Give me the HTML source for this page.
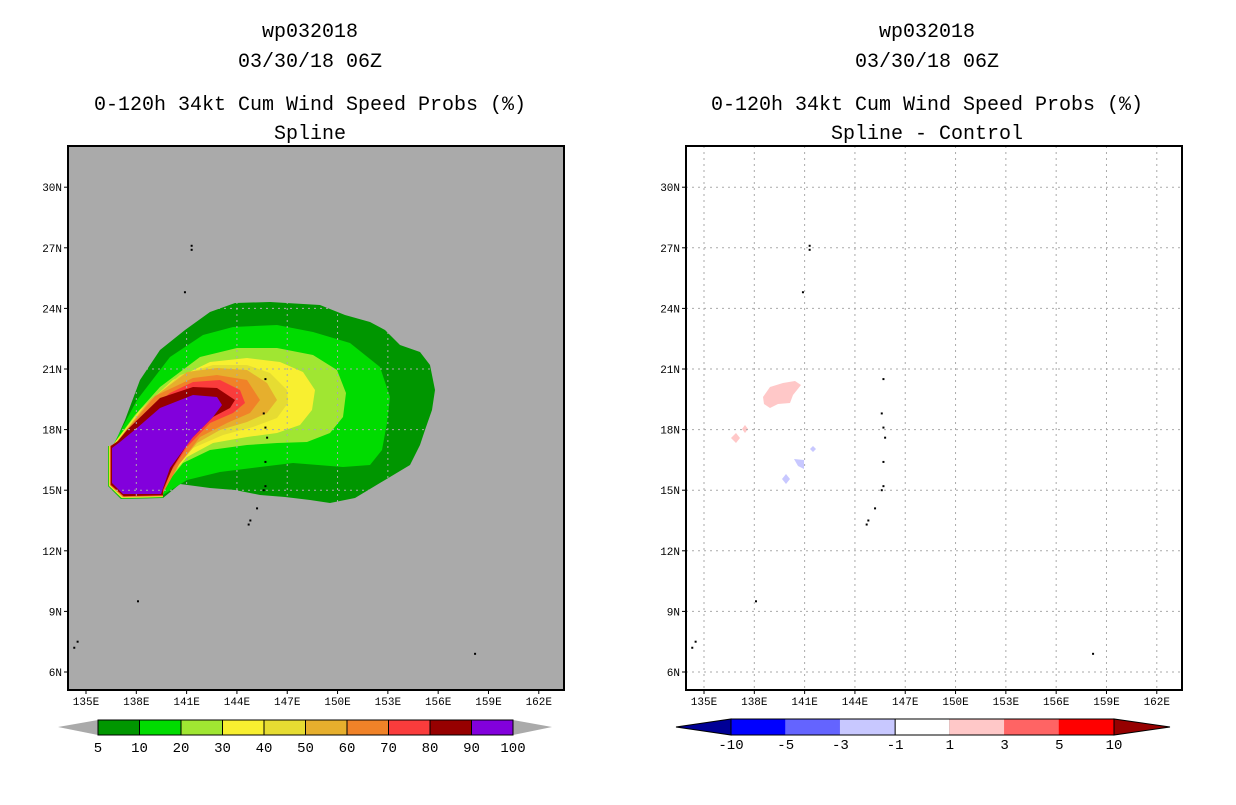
<!DOCTYPE html>
<html><head><meta charset="utf-8"><style>
body{margin:0;background:#fff;width:1236px;height:800px;overflow:hidden}
svg text{font-family:"Liberation Mono","DejaVu Sans Mono",monospace;fill:#000}
</style></head><body>
<svg id="s" width="1236" height="800" viewBox="0 0 1236 800" xmlns="http://www.w3.org/2000/svg">
<g font-size="20" text-anchor="middle">
<text x="310" y="37">wp032018</text><text x="310" y="67">03/30/18 06Z</text>
<text x="310" y="110">0-120h 34kt Cum Wind Speed Probs (%)</text><text x="310" y="139">Spline</text></g>
<g font-size="20" text-anchor="middle">
<text x="927" y="37">wp032018</text><text x="927" y="67">03/30/18 06Z</text>
<text x="927" y="110">0-120h 34kt Cum Wind Speed Probs (%)</text><text x="927" y="139">Spline - Control</text></g>

<rect x="68" y="146" width="496" height="544" fill="#aaaaaa"/>
<g id="contours"></g>
<g id="gridL"></g>
<rect x="686" y="146" width="496" height="544" fill="#fff"/>
<g>
<polygon fill="#ffc8c8" points="763,397 770,387 783,383 795,381 801,385 793,395 790,403 778,404 770,408 764,404"/>
<polygon fill="#ffc8c8" points="736,433 740,438 736,443 731,438"/>
<polygon fill="#ffc8c8" points="745,425 748,429 745,433 742,429"/>
<polygon fill="#c8c8ff" points="794,459 804,460 804,469 798,466"/>
<polygon fill="#c8c8ff" points="813,446 816,449 813,452 810,449"/>
<polygon fill="#c8c8ff" points="786,474 790,479 786,484 782,479"/>
</g>
<g id="gridR"></g>
<g id="islands"></g>
<rect x="68" y="146" width="496" height="544" fill="none" stroke="#000" stroke-width="2"/>
<rect x="686" y="146" width="496" height="544" fill="none" stroke="#000" stroke-width="2"/>
<g id="axes" font-size="11"></g>
<g id="cbL"></g>
<g id="cbR"></g>
</svg>
<script>
const lonTicks=[135,138,141,144,147,150,153,156,159,162];
const latTicks=[6,9,12,15,18,21,24,27,30];
const probLevels=[5,10,20,30,40,50,60,70,80,90,100];
const probColors=["#009600","#00dc00","#a0e632","#f8ef30","#e6dc32","#e6af2d","#f08228","#fa3c3c","#960000","#8200dc"];
const diffLevels=[-10,-5,-3,-1,1,3,5,10];
const diffColors=["#0000ff","#6464ff","#c8c8ff","#ffffff","#ffc8c8","#ff6464","#ff0000"];
const NS="http://www.w3.org/2000/svg";
function X(lon,off){return 86+(lon-135)*16.77+off;}
function Y(lat){return 672-(lat-6)*20.2;}
function el(tag,attrs,parent){const e=document.createElementNS(NS,tag);for(const k in attrs)e.setAttribute(k,attrs[k]);parent.appendChild(e);return e;}
function tail(i){const d=i*0.35;return ` 163,${(498-d).toFixed(1)} ${(121+d).toFixed(1)},${(499-d).toFixed(1)} ${(108+d).toFixed(1)},${(486-d*0.4).toFixed(1)} ${(108+d).toFixed(1)},446`;}
const shapes=[
"113,447 125,420 140,380 160,350 185,330 210,312 235,303 270,302 320,305 345,315 370,322 385,330 400,345 420,352 430,365 435,390 432,410 425,430 420,445 410,465 385,480 355,498 330,503 310,500 285,497 260,495 235,490 210,488 180,484",
"112,447 137,400 170,357 203,335 233,327 277,325 313,332 350,343 380,367 390,397 387,423 382,450 370,465 343,467 293,463 260,467 220,472 187,480 163,495",
"112,446 135,415 160,387 200,357 237,348 277,348 313,355 337,370 346,393 343,417 330,433 307,442 277,443 247,445 210,450 183,463 167,483 160,493",
"113,445 140,410 173,380 210,362 247,358 280,362 303,372 315,390 312,410 300,425 277,433 247,437 213,443 187,457 170,477 162,493",
"114,445 145,405 180,375 213,365 247,365 270,373 287,390 288,403 277,418 253,427 223,435 193,448 173,470 162,493",
"115,444 150,400 187,372 217,368 247,370 267,383 277,400 267,413 247,422 220,430 197,443 177,467 163,493",
"116,443 155,396 193,378 217,375 247,380 260,400 250,413 227,423 200,437 180,463 163,493",
"117,442 137,420 170,393 193,382 220,380 240,390 245,403 233,413 210,423 187,447 170,473 163,493",
"118,441 127,430 160,398 193,387 217,388 235,400 230,408 213,417 190,440 173,467 163,490"];
const cg=document.getElementById('contours');
shapes.forEach((p,i)=>{const e=el('polygon',{points:p+tail(i),fill:probColors[i]},cg);

});
const pur=el('polygon',{points:"112,448 112,483 123,494 161,494 170,468 193,437 213,417 222,405 217,397 193,395 160,408 137,428 120,442",fill:probColors[9]},cg);


[[0,'gridL'],[618,'gridR']].forEach(([off,id])=>{const g=document.getElementById(id);
lonTicks.forEach(l=>{const x=X(l,off);el('line',{x1:x,y1:146,x2:x,y2:690,stroke:'#aaaaaa','stroke-dasharray':'2,4'},g);});
latTicks.forEach(l=>{const y=Y(l);el('line',{x1:68+off,y1:y,x2:564+off,y2:y,stroke:'#aaaaaa','stroke-dasharray':'2,4'},g);});});
const isl=[[141.3,27.1],[141.3,26.9],[140.9,24.8],[145.7,20.5],[145.6,18.8],[145.7,18.1],[145.8,17.6],[145.7,16.4],[145.7,15.2],[145.6,15.0],[145.2,14.1],[144.8,13.5],[144.7,13.3],[138.1,9.5],[134.5,7.5],[134.3,7.2],[158.2,6.9]];
const ig=document.getElementById('islands');
[0,618].forEach(off=>isl.forEach(p=>{el('rect',{x:X(p[0],off)-1,y:Y(p[1])-1,width:2,height:2,fill:'#000'},ig);}));
const ax=document.getElementById('axes');
[0,618].forEach(off=>{
lonTicks.forEach(l=>{const x=X(l,off);el('line',{x1:x,y1:690,x2:x,y2:694,stroke:'#000'},ax);
const t=el('text',{x:x,y:705,'text-anchor':'middle'},ax);t.textContent=l+'E';});
latTicks.forEach(l=>{const y=Y(l);el('line',{x1:64+off,y1:y,x2:68+off,y2:y,stroke:'#000'},ax);
const t=el('text',{x:62+off,y:y+4,'text-anchor':'end'},ax);t.textContent=l+'N';});});
const cL=document.getElementById('cbL');
el('polygon',{points:"58,727 98,720 98,735",fill:'#aaaaaa'},cL);
el('polygon',{points:"552,727 513,720 513,735",fill:'#aaaaaa'},cL);
const wL=(513-98)/10;
probColors.forEach((c,i)=>{const r=el('rect',{x:98+i*wL,y:720,width:wL,height:15,fill:c,stroke:'#000'},cL);

});
probLevels.forEach((v,i)=>{const t=el('text',{x:98+i*wL,y:752,'text-anchor':'middle','font-size':'14'},cL);t.textContent=v;});
const cR=document.getElementById('cbR');
el('polygon',{points:"676,727 731,719 731,735",fill:'#000096',stroke:'#000'},cR);
el('polygon',{points:"1170,727 1114,719 1114,735",fill:'#960000',stroke:'#000'},cR);
const wR=(1114-731)/7;
diffColors.forEach((c,i)=>{const r=el('rect',{x:731+i*wR,y:719,width:wR,height:16,fill:c,stroke:c==='#ffffff'?'#000':c},cR);

});
el('rect',{x:731,y:719,width:383,height:16,fill:'none',stroke:'#000'},cR);
diffLevels.forEach((v,i)=>{const t=el('text',{x:731+i*wR,y:749,'text-anchor':'middle','font-size':'14'},cR);t.textContent=v;});
</script>
</body></html>
